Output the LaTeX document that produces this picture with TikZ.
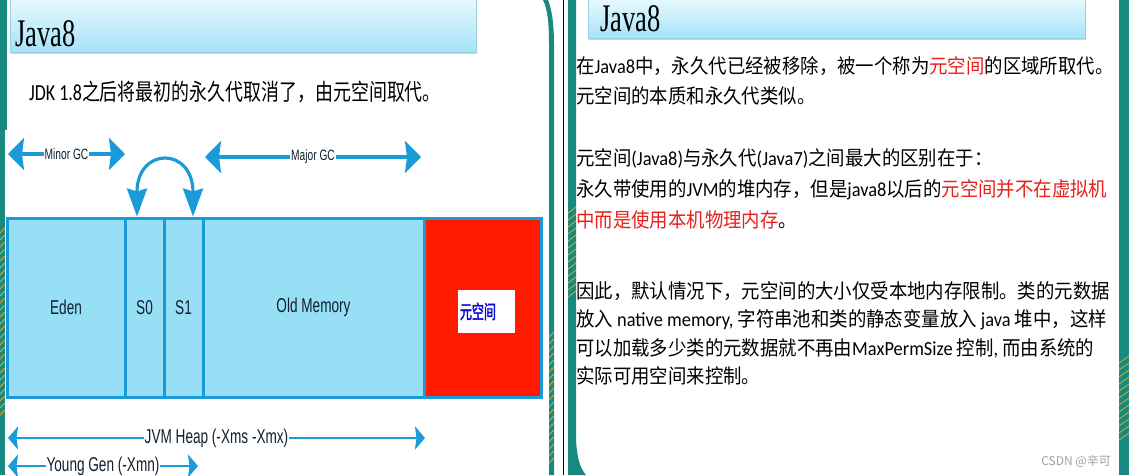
\documentclass[tikz,border=0pt]{standalone}
\usepackage{fontspec}
\setmainfont{Noto Sans CJK SC}
\newfontfamily\cjkL[FakeStretch=0.78]{Noto Sans CJK SC}
\newfontfamily\cjkR[FakeStretch=0.92]{Noto Sans CJK SC}
\newfontfamily\latL[FakeStretch=0.78]{Carlito}
\newfontfamily\latR[FakeStretch=0.92]{Carlito}
\newfontfamily\narrowsf[FakeStretch=0.68]{Liberation Sans}
\newfontfamily\slidetitle[FakeStretch=0.68]{Liberation Serif}
\newfontfamily\metafont[FakeStretch=0.63,FakeBold=2]{Noto Sans CJK SC}
\usetikzlibrary{arrows.meta,shadows}

\definecolor{heapblue}{HTML}{1A9BD7}
\definecolor{heapfill}{HTML}{97DFF5}
\definecolor{metared}{HTML}{FF1A00}
\definecolor{labelink}{HTML}{102030}
\definecolor{textred}{HTML}{E8201A}
\definecolor{metablue}{HTML}{0A0AD0}
\definecolor{slideteal}{HTML}{178A80}
\definecolor{stripe}{HTML}{E2A62E}
\definecolor{titletop}{HTML}{E8F9FE}
\definecolor{titlebottom}{HTML}{A6E3F8}

\newcommand{\lr}[1]{{\latR #1}}

\tikzset{
  region/.style={draw=heapblue, line width=3pt, fill=heapfill, inner sep=0pt,
    minimum height=179pt, text=labelink, font=\narrowsf\fontsize{20}{24}\selectfont},
  gcarrow/.style={heapblue, line width=3.2pt,
    {Stealth[length=16pt,width=32pt,inset=2pt]}-{Stealth[length=16pt,width=32pt,inset=2pt]}},
  swaparrow/.style={heapblue, line width=3.2pt,
    {Stealth[length=28pt,width=20pt,inset=3pt]}-{Stealth[length=28pt,width=20pt,inset=3pt]}},
  sizearrow/.style={heapblue, line width=2.8pt,
    {Stealth[length=10pt,width=23pt,inset=1.5pt]}-{Stealth[length=10pt,width=23pt,inset=1.5pt]}},
  gclabel/.style={fill=white, inner sep=1pt, text=labelink,
    font=\narrowsf\fontsize{15}{18}\selectfont},
  sizelabel/.style={fill=white, inner sep=1pt, text=labelink,
    font=\narrowsf\fontsize{20}{24}\selectfont},
  titlebar/.style={top color=titletop, bottom color=titlebottom, draw=titlebottom!80!gray,
    inner sep=0pt, anchor=north west,
    drop shadow={shadow xshift=1pt, shadow yshift=-2pt, opacity=0.35}},
  titletext/.style={anchor=base west, inner sep=0pt, font=\slidetitle\fontsize{39}{44}\selectfont},
  bodyline/.style={anchor=base west, inner sep=0pt, font=\cjkR\fontsize{20}{24}\selectfont},
}

\begin{document}
\begin{tikzpicture}[x=1pt, y=-1pt]
\useasboundingbox (0,0) rectangle (1129,475);
\fill[white] (0,0) rectangle (1129,475);

% slide borders
\fill[slideteal] (0,0) rectangle (7,130);
\fill[slideteal] (0,130) rectangle (5,475);
\fill[slideteal] (543,0) .. controls (548,10) and (549,25) .. (549,45) -- (549,475)
  -- (554,475) -- (554,45) .. controls (554,25) and (552,10) .. (548,0) -- cycle;
\draw[black, line width=1pt] (563,0) -- (563,475);
\fill[slideteal] (568,0) -- (576,0) -- (576,440) .. controls (577,458) and (580,468) .. (586,475)
  -- (568,475) -- cycle;
\fill[slideteal] (1119,0) rectangle (1129,475);
\foreach \y in {233,240,...,420}
  \draw[stripe, line width=0.8pt] (0,\y) -- (5,\y-5);
\foreach \y in {337,344,...,467}
  \draw[stripe, line width=0.8pt] (549,\y) -- (554,\y-5);
\foreach \y in {213,220,...,300}
  \draw[stripe, line width=0.8pt] (568,\y) -- (576,\y-6);
\foreach \y in {363,370,...,440}
  \draw[stripe, line width=0.8pt] (1119,\y) -- (1129,\y-7);

% left slide
\node[titlebar, minimum width=466pt, minimum height=54pt] (lefttitle) at (10,-2) {};
\node[titletext] (lefttitletext) at (15,46) {Java8};
\node[anchor=base west, inner sep=0pt, font=\cjkL\fontsize{23}{28}\selectfont] (jdk) at (29,100)
  {{\latL JDK 1.8}之后将最初的永久代取消了，由元空间取代。};

\node[region, minimum width=118pt] (eden) at (66,307.5) {Eden};
\node[region, minimum width=39pt] (s0) at (144.5,307.5) {S0};
\node[region, minimum width=39pt] (s1) at (183.5,307.5) {S1};
\node[region, minimum width=221pt] (old) at (313.5,307.5) {Old Memory};
\node[region, minimum width=117pt, fill=metared] (meta) at (482.5,307.5) {};
\node[fill=white, minimum width=57pt, minimum height=43pt, text width=53pt, inner sep=2pt,
  align=left, text=metablue, font=\metafont\fontsize{19}{22}\selectfont] (metatag) at (486.5,311.5) {元空间};

\coordinate (minorL) at (8,154);
\coordinate (minorR) at (125,154);
\coordinate (majorL) at (205,157);
\coordinate (majorR) at (421,157);
\draw[gcarrow] (minorL) -- (minorR) node[gclabel, midway] (minorgc) {Minor GC};
\draw[gcarrow] (majorL) -- (majorR) node[gclabel, midway] (majorgc) {Major GC};
\draw[swaparrow] ([xshift=-7.5pt]s0.north) .. controls +(0,-70) and +(0,-70) .. ([xshift=9.5pt]s1.north);

\coordinate (heapL) at (8,438);
\coordinate (heapR) at (425,438);
\coordinate (youngL) at (8,466);
\coordinate (youngR) at (198,466);
\draw[sizearrow] (heapL) -- (heapR) node[sizelabel, midway] (heap) {JVM Heap (-Xms -Xmx)};
\draw[sizearrow] (youngL) -- (youngR) node[sizelabel, midway] (young) {Young Gen (-Xmn)};

% right slide
\node[titlebar, minimum width=497pt, minimum height=40pt] (righttitle) at (588,-2) {};
\node[titletext] (righttitletext) at (600,31) {Java8};

\node[bodyline] (intro1) at (576,73) {在\lr{Java8}中，永久代已经被移除，被一个称为\textcolor{textred}{元空间}的区域所取代。};
\node[bodyline] (intro2) at (576,103) {元空间的本质和永久代类似。};
\node[bodyline] (diff1) at (576,165) {元空间\lr{(Java8)}与永久代\lr{(Java7)}之间最大的区别在于：};
\node[bodyline] (diff2) at (576,196) {永久带使用的\lr{JVM}的堆内存，但是\lr{java8}以后的\textcolor{textred}{元空间并不在虚拟机}};
\node[bodyline] (diff3) at (576,227) {\textcolor{textred}{中而是使用本机物理内存}。};
\node[bodyline] (note1) at (576,298) {因此，默认情况下，元空间的大小仅受本地内存限制。类的元数据};
\node[bodyline] (note2) at (576,326) {放入 \lr{native memory,} 字符串池和类的静态变量放入 \lr{java} 堆中，这样};
\node[bodyline] (note3) at (576,355) {可以加载多少类的元数据就不再由\lr{MaxPermSize} 控制\lr{,} 而由系统的};
\node[bodyline] (note4) at (576,383) {实际可用空间来控制。};

\node[anchor=east, inner sep=0pt, text=gray!75, font=\fontsize{12}{14}\selectfont] (csdn) at (1111,461) {CSDN @辛可};
\end{tikzpicture}
\end{document}
